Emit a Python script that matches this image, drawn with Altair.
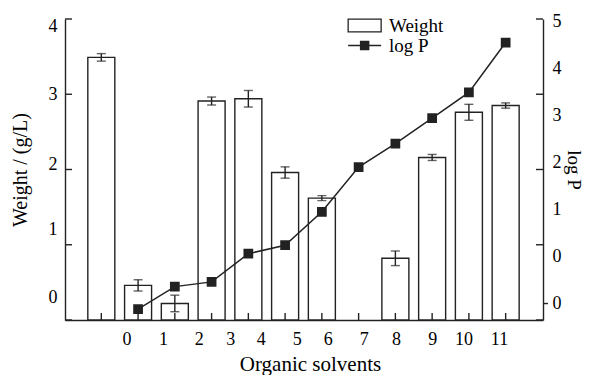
import altair as alt
import pandas as pd

# ---- data ----
slots = list(range(12))
weight = [3.49, 0.46, 0.22, 2.91, 2.94, 1.96, 1.62, None, 0.82, 2.16, 2.76, 2.85]
weight_err = [0.05, 0.075, 0.11, 0.053, 0.11, 0.075, 0.033, None, 0.097, 0.04, 0.106, 0.035]
log_p = [None, -1.12, -0.64, -0.54, 0.06, 0.24, 0.95, 1.90, 2.40, 2.94, 3.49, 4.55]

x_tick_labels = [str(i) for i in range(12)]
x_label_pos = [0.685, 1.68, 2.65, 3.51, 4.34, 5.32, 6.16, 7.14, 8.02, 9.0, 9.85, 10.82]
left_ticks = [0, 1, 2, 3, 4]
left_label_pos = [0.30, 1.20, 2.06, 3.00, 3.90]
right_label_pos = [5, 4, 3, 2, 1, 0, -1]
right_label_text = ["5", "4", "3", "2", "1", "0", "0"]
right_dash = [-1]
series_names = ["Weight", "log P"]

W, H = 478, 301
FONT = "Liberation Serif"
INK = "#222222"

df = pd.DataFrame({"slot": slots, "weight": weight, "err": weight_err, "logp": log_p})
df["lo"] = df["weight"] - df["err"]
df["hi"] = df["weight"] + df["err"]
bars_df = df.dropna(subset=["weight"]).copy()
bars_df["series"] = series_names[0]
line_df = df.dropna(subset=["logp"]).copy()
line_df["series"] = series_names[1]
left_tick_df = pd.DataFrame({"tv": left_ticks})
slot_df = pd.DataFrame({"slot": slots})
dash_df = pd.DataFrame({"rv": right_dash})

x_label_expr = "[" + ",".join(f"'{t}'" for t in x_tick_labels) + "][indexof([" + ",".join(str(v) for v in x_label_pos) + "], datum.value)]"
right_label_expr = "[" + ",".join(f"'{t}'" for t in right_label_text) + "][indexof([" + ",".join(str(v) for v in right_label_pos) + "], datum.value)]"

x_scale = alt.Scale(domain=[-0.852, 11.88], nice=False, zero=False)
x_axis = alt.Axis(values=x_label_pos, labelExpr=x_label_expr, ticks=False, grid=False,
                  title="Organic solvents", labelPadding=10, titlePadding=5,
                  titleFontSize=21, titleX=245, labelFlush=False, labelOverlap=False)

left_scale = alt.Scale(domain=[0, 4], nice=False, zero=False)
left_axis = alt.Axis(orient="left", values=left_label_pos, labelExpr="'' + round(datum.value)",
                     ticks=False, grid=False, title="Weight / (g/L)", labelPadding=8,
                     titlePadding=18, labelOverlap=False, labelFlush=False)

right_scale = alt.Scale(domain=[-1.35, 5.05], nice=False, zero=False)
right_axis = alt.Axis(orient="right", values=right_label_pos, labelExpr=right_label_expr,
                      ticks=False, grid=False, title="log P", labelPadding=9,
                      titlePadding=2, titleFontSize=19, labelOverlap=False, labelFlush=False)

base_x = alt.X("slot:Q", scale=x_scale, axis=x_axis)

bars = alt.Chart(bars_df).mark_bar(size=27, stroke=INK, strokeWidth=1.4).encode(
    x=base_x,
    y=alt.Y("weight:Q", scale=left_scale, axis=left_axis),
    fill=alt.Fill("series:N", scale=alt.Scale(domain=[series_names[0]], range=["white"]),
                  legend=alt.Legend(title=None, orient="none", legendX=280, legendY=-3,
                                    symbolType="M-1,-1H4.2V1H-1Z",
                                    symbolSize=161, symbolStrokeColor=INK,
                                    symbolStrokeWidth=1.3, labelOffset=25)),
)

errbars = alt.Chart(bars_df).mark_errorbar(
    ticks={"size": 9, "thickness": 1.4, "color": INK},
    rule={"strokeWidth": 1.4, "color": INK},
    color=INK,
).encode(
    x=base_x,
    y=alt.Y("lo:Q", scale=left_scale, axis=left_axis),
    y2="hi:Q",
)

left_in_ticks = alt.Chart(left_tick_df).mark_rule(color=INK, strokeWidth=1.4).encode(
    x=alt.value(0), x2=alt.value(7),
    y=alt.Y("tv:Q", scale=left_scale, axis=left_axis),
)
right_in_ticks = alt.Chart(left_tick_df).mark_rule(color=INK, strokeWidth=1.4).encode(
    x=alt.value(W - 7), x2=alt.value(W),
    y=alt.Y("tv:Q", scale=left_scale, axis=left_axis),
)
bottom_in_ticks = alt.Chart(slot_df).mark_rule(color=INK, strokeWidth=1.4).encode(
    x=base_x, y=alt.value(H), y2=alt.value(H - 7),
)

left_group = alt.layer(bars, errbars, left_in_ticks, right_in_ticks, bottom_in_ticks)

line = alt.Chart(line_df).mark_line(
    strokeWidth=1.5,
    point=alt.OverlayMarkDef(shape="square", size=60, filled=True, color=INK, opacity=1),
).encode(
    x=base_x,
    y=alt.Y("logp:Q", scale=right_scale, axis=right_axis),
    stroke=alt.Stroke("series:N", scale=alt.Scale(domain=[series_names[1]], range=[INK]),
                      legend=alt.Legend(title=None, orient="none", legendX=280, legendY=17,
                                        symbolType="M-1,0H4.2M0.97,-0.63H2.23V0.63H0.97Z",
                                        symbolSize=161, symbolFillColor=INK,
                                        symbolStrokeWidth=1.5, labelOffset=25)),
)

dash = alt.Chart(dash_df).mark_rule(color=INK, strokeWidth=1.4).encode(
    x=alt.value(W), x2=alt.value(W + 5),
    y=alt.Y("rv:Q", scale=right_scale, axis=right_axis),
)

right_group = alt.layer(line, dash)

chart = alt.layer(left_group, right_group).resolve_scale(
    y="independent", fill="independent", stroke="independent"
).properties(
    width=W, height=H,
    autosize=alt.AutoSizeParams(type="none"),
    padding={"left": 57, "top": 11, "right": 43, "bottom": 55},
).configure_view(stroke=None).configure_axis(
    labelFont=FONT, labelFontSize=18, labelColor="black",
    titleFont=FONT, titleFontSize=20, titleFontWeight="normal", titleColor="black",
    domainColor=INK, domainWidth=1.4,
).configure_legend(
    labelFont=FONT, labelFontSize=19, labelColor="black", padding=0, rowPadding=4,
)

chart.save("out.html", embed_options={"renderer": "svg", "actions": False})
